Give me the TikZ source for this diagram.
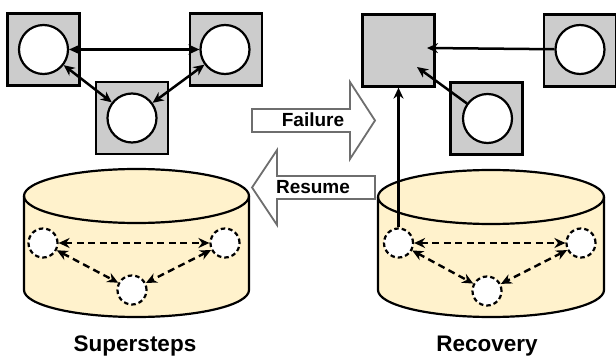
\documentclass[tikz,border=0pt]{standalone}
\usepackage{fontspec}
\setmainfont{Liberation Sans}
\usetikzlibrary{arrows.meta}
\definecolor{boxgray}{HTML}{CCCCCC}
\definecolor{cream}{HTML}{FFF2CC}
\definecolor{arrgray}{HTML}{6E6E6E}
\begin{document}
\begin{tikzpicture}[x=1pt,y=-1pt,
  sq/.style={draw=black,fill=boxgray,line width=2.2pt,minimum size=72pt,inner sep=0pt,shape=rectangle},
  vcirc/.style={draw=black,fill=white,line width=2.2pt,circle,minimum size=49pt,inner sep=0pt},
  dcirc/.style={draw=black,fill=white,line width=2.2pt,circle,minimum size=29pt,inner sep=0pt,dash pattern=on 4.5pt off 3pt},
  conn/.style={line width=2.5pt,-{Stealth[length=11pt,width=10pt]}},
  bconn/.style={line width=2.5pt,{Stealth[length=11pt,width=10pt]}-{Stealth[length=11pt,width=10pt]}},
  dconn/.style={line width=2.4pt,dash pattern=on 7pt off 4.5pt,{Stealth[length=11pt,width=10pt]}-{Stealth[length=11pt,width=10pt]}},
  bigarr/.style={draw=arrgray,fill=white,line width=1.8pt,line join=miter},
  cyl/.style={draw=black,fill=cream,line width=2.2pt},
  lbl/.style={font=\bfseries\fontsize{22.5}{26}\selectfont},
  alabel/.style={font=\bfseries\fontsize{19}{22}\selectfont,inner sep=0pt}
]
\useasboundingbox (0,0) rectangle (616,358);

% ---- cylinders ----
\filldraw[cyl] (24,196) -- (24,290) arc[start angle=180,end angle=360,x radius=112.5pt,y radius=27pt]
  -- (249,196) arc[start angle=0,end angle=180,x radius=112.5pt,y radius=27pt] -- cycle;
\draw[cyl,fill=none] (24,196) arc[start angle=180,end angle=360,x radius=112.5pt,y radius=27pt];

\filldraw[cyl] (378,197) -- (378,290) arc[start angle=180,end angle=360,x radius=113pt,y radius=27pt]
  -- (604,197) arc[start angle=0,end angle=180,x radius=113pt,y radius=27pt] -- cycle;
\draw[cyl,fill=none] (378,197) arc[start angle=180,end angle=360,x radius=113pt,y radius=27pt];

% ---- left top graph ----
\node[sq] (sqA) at (43.5,49.5) {};
\node[sq] (sqB) at (226,49.5) {};
\node[sq] (sqC) at (132,118) {};
\node[vcirc] (cA) at (43.5,49.5) {};
\node[vcirc] (cB) at (225,49.5) {};
\node[vcirc] (cC) at (132,118) {};
\draw[bconn] (cA) -- (cB);
\draw[bconn] (cA) -- (cC);
\draw[bconn] (cB) -- (cC);

% ---- right top graph ----
\node[sq] (sqD) at (398.5,50.5) {};
\node[sq] (sqE) at (580,50.5) {};
\node[sq] (sqF) at (486.5,118.5) {};
\node[vcirc] (cE) at (580,49.5) {};
\node[vcirc] (cF) at (487.5,118.5) {};
\coordinate (tE) at (427,48);
\coordinate (tF) at (417,67);
\draw[conn] (cE) -- (tE);
\draw[conn] (cF) -- (tF);

% ---- left cylinder contents ----
\node[dcirc] (l1) at (43,243) {};
\node[dcirc] (l2) at (225,243) {};
\node[dcirc] (l3) at (132,290) {};
\draw[dconn] (l1) -- (l2);
\draw[dconn] (l1) -- (l3);
\draw[dconn] (l2) -- (l3);

% ---- right cylinder contents ----
\node[dcirc] (r1) at (398.5,243) {};
\node[dcirc] (r2) at (581,243) {};
\node[dcirc] (r3) at (487,291) {};
\draw[dconn] (r1) -- (r2);
\draw[dconn] (r1) -- (r3);
\draw[dconn] (r2) -- (r3);
\draw[conn] (r1.north) -- (r1.north |- sqD.south);

% ---- big arrows ----
\draw[bigarr] (252,109) -- (350,109) -- (350,82) -- (375,120.5) -- (350,159) -- (350,132) -- (252,132) -- cycle;
\node[alabel] (fail) at (313,120) {Failure};
\draw[bigarr] (375,176) -- (277,176) -- (277,150) -- (252,187.5) -- (277,225) -- (277,199) -- (375,199) -- cycle;
\node[alabel] (res) at (313,187.5) {Resume};

% ---- labels ----
\node[lbl] (ss) at (135,346) {Supersteps};
\node[lbl] (rc) at (487,346) {Recovery};
\end{tikzpicture}
\end{document}
